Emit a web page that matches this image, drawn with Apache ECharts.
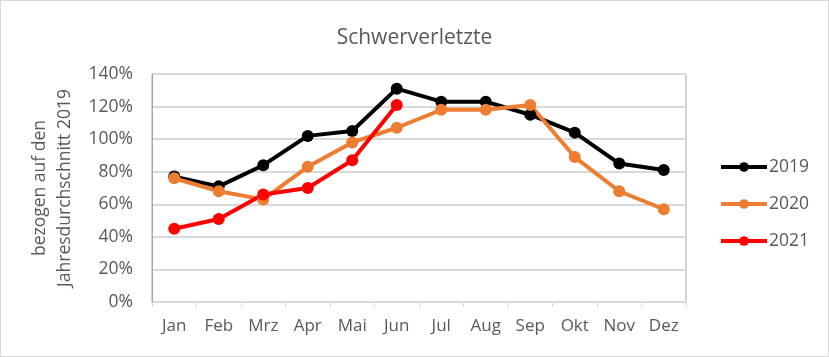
<!DOCTYPE html>
<html><head><meta charset="utf-8">
<script src="https://cdn.jsdelivr.net/npm/echarts@6/dist/echarts.min.js"></script>
<style>html,body{margin:0;padding:0;background:#fff}#c{width:829px;height:357px;box-sizing:border-box;border:1px solid #d9d9d9}</style>
</head><body><div id="c"></div>
<script>
const categories = ['Jan','Feb','Mrz','Apr','Mai','Jun','Jul','Aug','Sep','Okt','Nov','Dez'];
const s2019 = [77, 71, 84, 102, 105, 131, 123, 123, 115, 104, 85, 81];
const s2020 = [76, 68, 63, 83, 98, 107, 118, 118, 121, 89, 68, 57];
const s2021 = [45, 51, 66, 70, 87, 121];
const yTicks = {min: 0, max: 140, interval: 20};

const chart = echarts.init(document.getElementById('c'));
const font = '"Open Sans", "Noto Sans", sans-serif';
function ser(name, data, color){
  return {name, type:'line', data, symbol:'circle', symbolSize:12,
    lineStyle:{color, width:4}, itemStyle:{color}, emphasis:{disabled:true}};
}
chart.setOption({
  animation:false,
  textStyle:{fontFamily:font},
  title:{text:'Schwerverletzte', left:'center', top:22,
    textStyle:{fontFamily:font, fontSize:21, fontWeight:'normal', color:'#595959'}},
  legend:{orient:'vertical', left:713, top:152, itemGap:19, itemWidth:46, itemHeight:12,
    lineStyle:{width:4},
    textStyle:{fontFamily:font, fontSize:17.5, color:'#595959', padding:[0,0,0,-3]},
    data:['2019','2020','2021']},
  grid:{left:151, right:142, top:73, bottom:54, show:true, borderColor:'#a6a6a6', borderWidth:1},
  xAxis:{type:'category', data:categories, boundaryGap:true,
    axisLine:{lineStyle:{color:'#d9d9d9', width:1}},
    axisTick:{show:true, length:5, lineStyle:{color:'#d9d9d9'}},
    axisLabel:{fontFamily:font, fontSize:17, color:'#595959', margin:16}},
  yAxis:{type:'value', min:yTicks.min, max:yTicks.max, interval:yTicks.interval,
    name:'bezogen auf den\nJahresdurchschnitt 2019', nameLocation:'middle', nameGap:72, nameRotate:90,
    nameTextStyle:{fontFamily:font, fontSize:17.5, color:'#595959', lineHeight:25},
    axisLine:{show:true, lineStyle:{color:'#a6a6a6'}},
    axisTick:{show:false},
    splitLine:{lineStyle:{color:'#d9d9d9', width:2}},
    axisLabel:{fontFamily:font, fontSize:17.5, color:'#595959', margin:19, formatter:v=>v+'%'}},
  series:[ser('2019', s2019, '#000000'), ser('2020', s2020, '#ed7d31'), ser('2021', s2021, '#ff0000')]
});
</script></body></html>
